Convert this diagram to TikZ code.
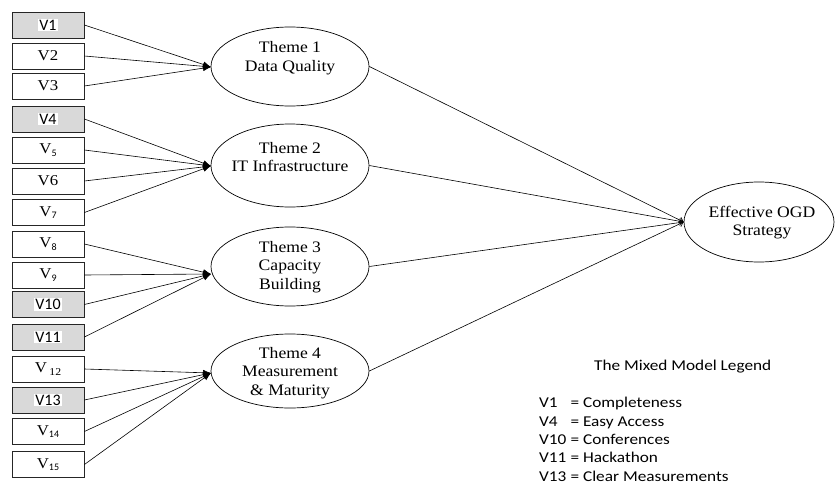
\documentclass[tikz,border=0pt]{standalone}
\usepackage{fontspec}
\setmainfont{Liberation Serif}[FakeStretch=1.1]
\newfontfamily\legfont{Carlito}[FakeStretch=1.15]
\newfontfamily\boxsans{Carlito}
\newfontfamily\boxserif{Liberation Serif}[FakeStretch=1.12]
\usetikzlibrary{arrows.meta,shapes.geometric}
\newcommand{\vsub}[1]{V\raisebox{-2.5pt}{\boxsans\fontsize{10}{10}\selectfont #1}}
\newcommand{\vsubs}[1]{V\,\raisebox{-3pt}{\fontsize{10.5}{10.5}\selectfont #1}}
\newcommand{\hl}[1]{{\setlength\fboxsep{1.2pt}\colorbox{white}{\boxsans\fontsize{16}{16}\selectfont #1}}}
\newcommand{\twoline}[2]{\begin{tabular}[t]{@{}c@{}}#1\\#2\end{tabular}}
\newcommand{\threeline}[3]{\begin{tabular}[t]{@{}c@{}}#1\\#2\\#3\end{tabular}}
\begin{document}
\begin{tikzpicture}[x=1pt,y=-1pt,
  vbox/.style={draw=black!85, line width=0.8pt, minimum width=72pt, minimum height=26pt,
    inner sep=0pt, font=\boxserif\fontsize{15}{15}\selectfont},
  gbox/.style={vbox, fill=black!15},
  themeell/.style={ellipse, draw, line width=0.7pt, minimum width=158pt, inner sep=0pt},
  themetext/.style={anchor=base, inner sep=0pt, font=\fontsize{16}{18.5}\selectfont},
  inarrow/.style={line width=0.6pt, -{Latex[length=8pt,width=6pt]}},
  outarrow/.style={line width=0.6pt, -{Straight Barb[length=4pt,width=6pt]}},
  legtext/.style={anchor=base west, inner sep=0pt, font=\legfont\fontsize{15}{15}\selectfont}
]
\useasboundingbox (0,0) rectangle (835,487);
\fill[white] (0,0) rectangle (835,487);

% variable boxes
\node[gbox] (v1) at (48,25) {\hl{V1}};
\node[vbox] (v2) at (48,56) {V2};
\node[vbox] (v3) at (48,86) {V3};
\node[gbox] (v4) at (48,119) {\hl{V4}};
\node[vbox] (v5) at (48,150) {\vsub{5}};
\node[vbox] (v6) at (48,181) {V6};
\node[vbox] (v7) at (48,212.5) {\vsub{7}};
\node[vbox] (v8) at (48,244) {\vsub{8}};
\node[vbox] (v9) at (48,275) {\vsub{9}};
\node[gbox] (v10) at (48,304.5) {\hl{V10}};
\node[gbox] (v11) at (48,337) {\hl{V11}};
\node[vbox] (v12) at (48,369) {\vsubs{12}};
\node[gbox] (v13) at (48,400) {\hl{V13}};
\node[vbox] (v14) at (48,431.5) {\vsub{14}};
\node[vbox] (v15) at (48,464.5) {\vsub{15}};

% theme ellipses
\node[themeell, minimum height=79pt] (t1) at (290,66.5) {};
\node[themeell, minimum height=83pt] (t2) at (290,165.5) {};
\node[themeell, minimum height=79pt] (t3) at (290,266.5) {};
\node[themeell, minimum height=74pt] (t4) at (290,371) {};
\node[ellipse, draw, line width=0.7pt, minimum width=150pt, minimum height=80pt, inner sep=0pt] (ogd) at (759,222) {};

\node[themetext] (t1txt) at (290,52.5) {\twoline{Theme 1}{Data Quality}};
\node[themetext] (t2txt) at (290,153) {\twoline{Theme 2}{IT Infrastructure}};
\node[themetext] (t3txt) at (290,252) {\threeline{Theme 3}{Capacity}{Building}};
\node[themetext] (t4txt) at (290,358) {\threeline{Theme 4}{Measurement}{\& Maturity}};
\node[themetext] (ogdtxt) at (762,217) {\twoline{Effective OGD}{Strategy}};

% convergence points
\coordinate (t1in) at (211,67);
\coordinate (t2in) at (211,166);
\coordinate (t3in) at (211,274);
\coordinate (t4in) at (211,373);

\foreach \v in {v1,v2,v3} \draw[inarrow] (\v.east) -- (t1in);
\foreach \v in {v4,v5,v6,v7} \draw[inarrow] (\v.east) -- (t2in);
\foreach \v in {v8,v9,v10,v11} \draw[inarrow] (\v.east) -- (t3in);
\foreach \v in {v12,v13,v14,v15} \draw[inarrow] (\v.east) -- (t4in);

\foreach \t in {t1,t2,t3,t4} \draw[outarrow] (\t.east) -- (ogd.west);

% legend
\node[legtext] (legtitle) at (594,370.7) {The Mixed Model Legend};
\node[legtext] (leg1) at (539,407.3) {\makebox[27.5pt][l]{V1} = Completeness};
\node[legtext] (leg2) at (539,426) {\makebox[27.5pt][l]{V4} = Easy Access};
\node[legtext] (leg3) at (539,444.5) {\makebox[27.5pt][l]{V10} = Conferences};
\node[legtext] (leg4) at (539,462.7) {\makebox[27.5pt][l]{V11} = Hackathon};
\node[legtext] (leg5) at (539,481) {\makebox[27.5pt][l]{V13} = Clear Measurements};
\end{tikzpicture}
\end{document}
